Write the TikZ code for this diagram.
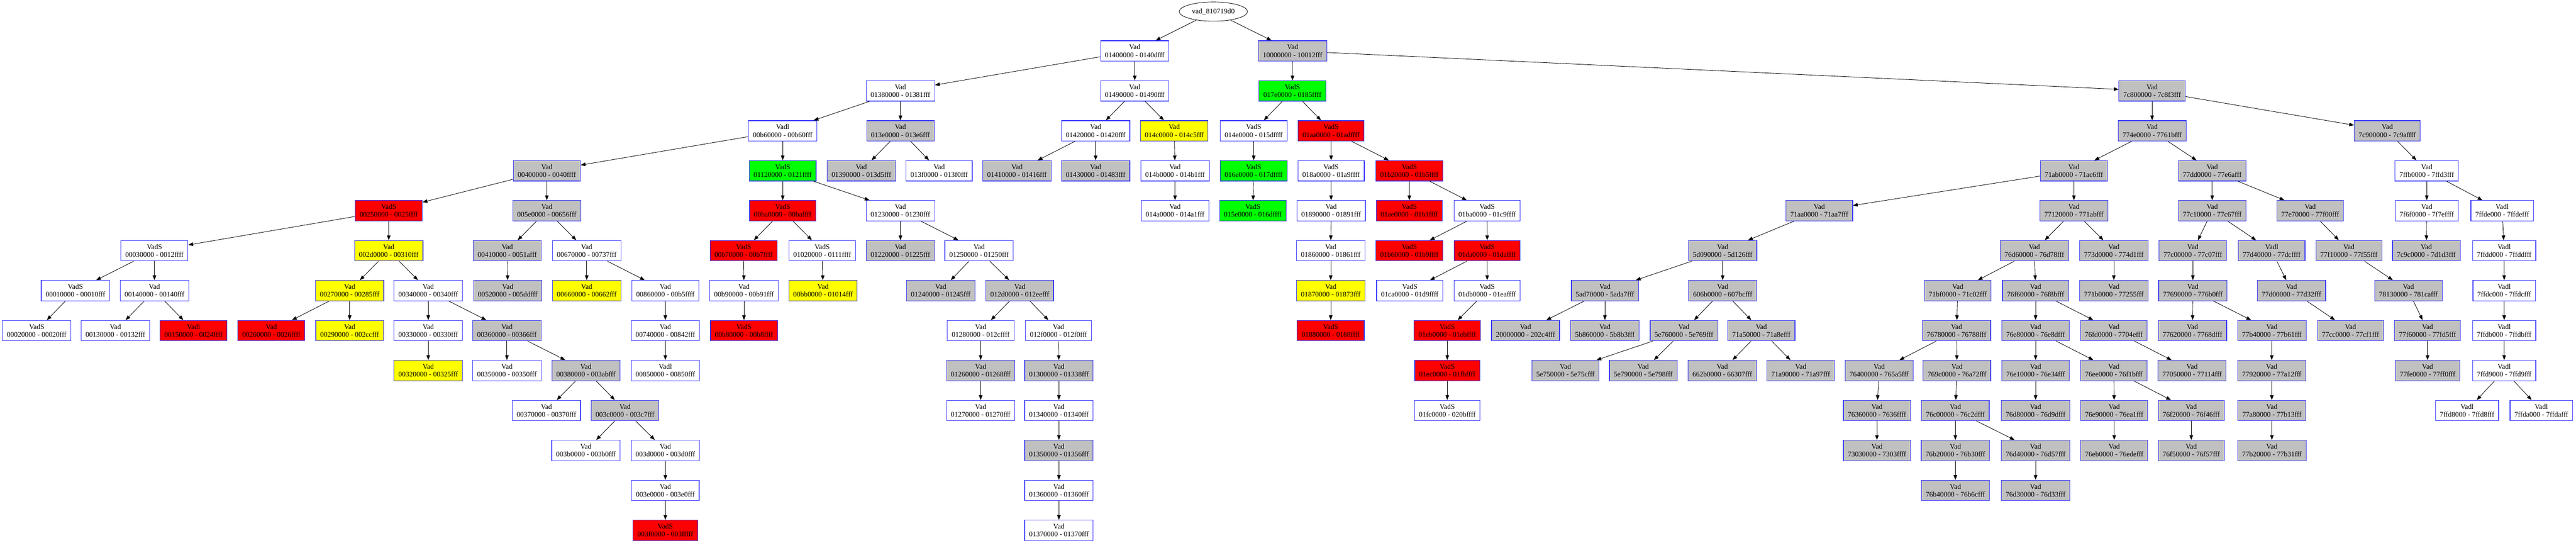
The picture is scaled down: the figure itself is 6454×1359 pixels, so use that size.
\documentclass[tikz,border=0pt]{standalone}
\usepackage{fontspec}
\setmainfont{Liberation Serif}
\usetikzlibrary{arrows.meta,shapes.geometric}
\definecolor{vgrey}{HTML}{C0C0C0}
\definecolor{vblue}{HTML}{3838FF}
\definecolor{vred}{HTML}{FF0000}
\definecolor{vyel}{HTML}{FFFF00}
\definecolor{vgrn}{HTML}{00FF00}
\newcommand\vn[6]{\node[#1] (#2) at (#3,{27.5+100*#4}) {#5\\#6};}
\begin{document}
\begin{tikzpicture}[x=1pt,y=-1pt,
  vbox/.style={draw=vblue,line width=1.5pt,minimum height=51pt,inner xsep=11pt,inner ysep=2pt,align=center,font=\fontsize{18}{19.5}\selectfont},
  wn/.style={vbox,fill=white},
  gy/.style={vbox,fill=vgrey},
  rd/.style={vbox,fill=vred},
  yw/.style={vbox,fill=vyel},
  gr/.style={vbox,fill=vgrn},
  edge/.style={line width=1.1pt,-{Triangle[length=12pt,width=9pt]}}]
\useasboundingbox (0,0) rectangle (6454,1359);
\fill[white] (0,0) rectangle (6454,1359);
\node[draw,ellipse,line width=1.1pt,minimum width=171pt,minimum height=48pt,inner sep=0pt,font=\fontsize{18}{19.5}\selectfont] (root) at (3040,29) {vad\_810719d0};
% row 1
\vn{wn}{v01400000}{2843}{1}{Vad}{01400000 - 0140dfff}
\vn{gy}{v10000000}{3238.5}{1}{Vad}{10000000 - 10012fff}
% row 2
\vn{wn}{v01380000}{2256}{2}{Vad}{01380000 - 01381fff}
\vn{wn}{v01490000}{2843}{2}{Vad}{01490000 - 01490fff}
\vn{gr}{v017e0000}{3238}{2}{VadS}{017e0000 - 0185ffff}
\vn{gy}{v7c800000}{5392}{2}{Vad}{7c800000 - 7c8f3fff}
% row 3
\vn{wn}{v00b60000}{1961}{3}{Vadl}{00b60000 - 00b60fff}
\vn{gy}{v013e0000}{2256}{3}{Vad}{013e0000 - 013e6fff}
\vn{wn}{v01420000}{2745}{3}{Vad}{01420000 - 01420fff}
\vn{yw}{v014c0000}{2942}{3}{Vad}{014c0000 - 014c5fff}
\vn{wn}{v014e0000}{3141}{3}{VadS}{014e0000 - 015dffff}
\vn{rd}{v01aa0000}{3335}{3}{VadS}{01aa0000 - 01adffff}
\vn{gy}{v774e0000}{5392}{3}{Vad}{774e0000 - 7761bfff}
\vn{gy}{v7c900000}{5981}{3}{Vad}{7c900000 - 7c9affff}
% row 4
\vn{gy}{v00400000}{1370}{4}{Vad}{00400000 - 0040ffff}
\vn{gr}{v01120000}{1961}{4}{VadS}{01120000 - 0121ffff}
\vn{gy}{v01390000}{2158}{4}{Vad}{01390000 - 013d5fff}
\vn{wn}{v013f0000}{2353}{4}{Vad}{013f0000 - 013f0fff}
\vn{gy}{v01410000}{2548}{4}{Vad}{01410000 - 01416fff}
\vn{gy}{v01430000}{2745}{4}{Vad}{01430000 - 01483fff}
\vn{wn}{v014b0000}{2944}{4}{Vad}{014b0000 - 014b1fff}
\vn{gr}{v016e0000}{3141}{4}{VadS}{016e0000 - 017dffff}
\vn{wn}{v018a0000}{3335}{4}{VadS}{018a0000 - 01a9ffff}
\vn{rd}{v01b20000}{3531}{4}{VadS}{01b20000 - 01b5ffff}
\vn{gy}{v71ab0000}{5196}{4}{Vad}{71ab0000 - 71ac6fff}
\vn{gy}{v77dd0000}{5542.5}{4}{Vad}{77dd0000 - 77e6afff}
\vn{wn}{v7ffb0000}{6080}{4}{Vad}{7ffb0000 - 7ffd3fff}
% row 5
\vn{rd}{v00250000}{974}{5}{VadS}{00250000 - 0025ffff}
\vn{gy}{v005e0000}{1370}{5}{Vad}{005e0000 - 00656fff}
\vn{rd}{v00ba0000}{1961}{5}{VadS}{00ba0000 - 00baffff}
\vn{wn}{v01230000}{2256}{5}{Vad}{01230000 - 01230fff}
\vn{wn}{v014a0000}{2944}{5}{Vad}{014a0000 - 014a1fff}
\vn{gr}{v015e0000}{3139}{5}{VadS}{015e0000 - 016dffff}
\vn{wn}{v01890000}{3335}{5}{Vad}{01890000 - 01891fff}
\vn{rd}{v01ae0000}{3531}{5}{VadS}{01ae0000 - 01b1ffff}
\vn{wn}{v01ba0000}{3726}{5}{VadS}{01ba0000 - 01c9ffff}
\vn{gy}{v71aa0000}{4558}{5}{Vad}{71aa0000 - 71aa7fff}
\vn{gy}{v77120000}{5196}{5}{Vad}{77120000 - 771abfff}
\vn{gy}{v77c10000}{5542.5}{5}{Vad}{77c10000 - 77c67fff}
\vn{gy}{v77e70000}{5788}{5}{Vad}{77e70000 - 77f00fff}
\vn{wn}{v7f6f0000}{6080}{5}{Vad}{7f6f0000 - 7f7effff}
\vn{wn}{v7ffde000}{6269}{5}{Vadl}{7ffde000 - 7ffdefff}
% row 6
\vn{wn}{v00030000}{387}{6}{VadS}{00030000 - 0012ffff}
\vn{yw}{v002d0000}{974}{6}{Vad}{002d0000 - 00310fff}
\vn{gy}{v00410000}{1271}{6}{Vad}{00410000 - 0051afff}
\vn{wn}{v00670000}{1470}{6}{Vad}{00670000 - 00737fff}
\vn{rd}{v00b70000}{1863}{6}{VadS}{00b70000 - 00b7ffff}
\vn{wn}{v01020000}{2060}{6}{VadS}{01020000 - 0111ffff}
\vn{gy}{v01220000}{2256}{6}{Vad}{01220000 - 01225fff}
\vn{wn}{v01250000}{2453}{6}{Vad}{01250000 - 01250fff}
\vn{wn}{v01860000}{3334}{6}{Vad}{01860000 - 01861fff}
\vn{rd}{v01b60000}{3531}{6}{VadS}{01b60000 - 01b9ffff}
\vn{rd}{v01da0000}{3726}{6}{VadS}{01da0000 - 01daffff}
\vn{gy}{v5d090000}{4316}{6}{Vad}{5d090000 - 5d126fff}
\vn{gy}{v76d60000}{5097}{6}{Vad}{76d60000 - 76d78fff}
\vn{gy}{v773d0000}{5296}{6}{Vad}{773d0000 - 774d1fff}
\vn{gy}{v77c00000}{5494}{6}{Vad}{77c00000 - 77c07fff}
\vn{gy}{v77d40000}{5691.5}{6}{Vadl}{77d40000 - 77dcffff}
\vn{gy}{v77f10000}{5885}{6}{Vad}{77f10000 - 77f55fff}
\vn{gy}{v7c9c0000}{6079}{6}{Vad}{7c9c0000 - 7d1d3fff}
\vn{wn}{v7ffdd000}{6274}{6}{Vadl}{7ffdd000 - 7ffddfff}
% row 7
\vn{wn}{v00010000}{189}{7}{VadS}{00010000 - 00010fff}
\vn{wn}{v00140000}{387}{7}{Vad}{00140000 - 00140fff}
\vn{yw}{v00270000}{876}{7}{Vad}{00270000 - 00285fff}
\vn{wn}{v00340000}{1073}{7}{Vad}{00340000 - 00340fff}
\vn{gy}{v00520000}{1272}{7}{Vad}{00520000 - 005ddfff}
\vn{yw}{v00660000}{1470}{7}{Vad}{00660000 - 00662fff}
\vn{wn}{v00860000}{1667}{7}{Vad}{00860000 - 00b5ffff}
\vn{wn}{v00b90000}{1864}{7}{Vad}{00b90000 - 00b91fff}
\vn{yw}{v00bb0000}{2062}{7}{Vad}{00bb0000 - 01014fff}
\vn{gy}{v01240000}{2357}{7}{Vad}{01240000 - 01245fff}
\vn{gy}{v012d0000}{2555}{7}{Vad}{012d0000 - 012eefff}
\vn{yw}{v01870000}{3334}{7}{Vad}{01870000 - 01873fff}
\vn{wn}{v01ca0000}{3532}{7}{VadS}{01ca0000 - 01d9ffff}
\vn{wn}{v01db0000}{3726}{7}{VadS}{01db0000 - 01eaffff}
\vn{gy}{v5ad70000}{4021}{7}{Vad}{5ad70000 - 5ada7fff}
\vn{gy}{v606b0000}{4316}{7}{Vad}{606b0000 - 607bcfff}
\vn{gy}{v71bf0000}{4905}{7}{Vad}{71bf0000 - 71c02fff}
\vn{gy}{v76f60000}{5100}{7}{Vad}{76f60000 - 76f8bfff}
\vn{gy}{v771b0000}{5296}{7}{Vad}{771b0000 - 77255fff}
\vn{gy}{v77690000}{5494}{7}{Vad}{77690000 - 776b0fff}
\vn{gy}{v77d00000}{5741}{7}{Vad}{77d00000 - 77d32fff}
\vn{gy}{v78130000}{6034}{7}{Vad}{78130000 - 781cafff}
\vn{wn}{v7ffdc000}{6274}{7}{Vadl}{7ffdc000 - 7ffdcfff}
% row 8
\vn{wn}{v00020000}{92}{8}{VadS}{00020000 - 00020fff}
\vn{wn}{v00130000}{289}{8}{Vad}{00130000 - 00132fff}
\vn{rd}{v00150000}{485}{8}{Vadl}{00150000 - 0024ffff}
\vn{rd}{v00260000}{680}{8}{Vad}{00260000 - 0026ffff}
\vn{yw}{v00290000}{876}{8}{Vad}{00290000 - 002ccfff}
\vn{wn}{v00330000}{1073}{8}{Vad}{00330000 - 00330fff}
\vn{gy}{v00360000}{1270}{8}{Vad}{00360000 - 00366fff}
\vn{wn}{v00740000}{1667}{8}{Vad}{00740000 - 00842fff}
\vn{rd}{v00b80000}{1864}{8}{VadS}{00b80000 - 00b8ffff}
\vn{wn}{v01280000}{2457}{8}{Vad}{01280000 - 012cffff}
\vn{wn}{v012f0000}{2652}{8}{Vad}{012f0000 - 012f0fff}
\vn{rd}{v01880000}{3334}{8}{VadS}{01880000 - 0188ffff}
\vn{rd}{v01eb0000}{3626}{8}{VadS}{01eb0000 - 01ebffff}
\vn{gy}{v20000000}{3822}{8}{Vad}{20000000 - 202c4fff}
\vn{gy}{v5b860000}{4021}{8}{Vad}{5b860000 - 5b8b3fff}
\vn{gy}{v5e760000}{4219}{8}{Vad}{5e760000 - 5e769fff}
\vn{gy}{v71a50000}{4413}{8}{Vad}{71a50000 - 71a8efff}
\vn{gy}{v76780000}{4902}{8}{Vad}{76780000 - 76788fff}
\vn{gy}{v76e80000}{5100}{8}{Vad}{76e80000 - 76e8dfff}
\vn{gy}{v76fd0000}{5296}{8}{Vad}{76fd0000 - 7704efff}
\vn{gy}{v77620000}{5493}{8}{Vad}{77620000 - 7768dfff}
\vn{gy}{v77b40000}{5692}{8}{Vad}{77b40000 - 77b61fff}
\vn{gy}{v77cc0000}{5889}{8}{Vad}{77cc0000 - 77cf1fff}
\vn{gy}{v77f60000}{6082}{8}{Vad}{77f60000 - 77fd5fff}
\vn{wn}{v7ffdb000}{6274}{8}{Vadl}{7ffdb000 - 7ffdbfff}
% row 9
\vn{yw}{v00320000}{1073}{9}{Vad}{00320000 - 00325fff}
\vn{wn}{v00350000}{1270}{9}{Vad}{00350000 - 00350fff}
\vn{gy}{v00380000}{1468}{9}{Vad}{00380000 - 003abfff}
\vn{wn}{v00850000}{1667}{9}{Vadl}{00850000 - 00850fff}
\vn{gy}{v01260000}{2457}{9}{Vad}{01260000 - 01268fff}
\vn{gy}{v01300000}{2653}{9}{Vad}{01300000 - 01338fff}
\vn{rd}{v01ec0000}{3626}{9}{VadS}{01ec0000 - 01fbffff}
\vn{gy}{v5e750000}{3922}{9}{Vad}{5e750000 - 5e75cfff}
\vn{gy}{v5e790000}{4117}{9}{Vad}{5e790000 - 5e798fff}
\vn{gy}{v662b0000}{4315}{9}{Vad}{662b0000 - 66307fff}
\vn{gy}{v71a90000}{4511.5}{9}{Vad}{71a90000 - 71a97fff}
\vn{gy}{v76400000}{4708}{9}{Vad}{76400000 - 765a5fff}
\vn{gy}{v769c0000}{4903}{9}{Vad}{769c0000 - 76a72fff}
\vn{gy}{v76e10000}{5100}{9}{Vad}{76e10000 - 76e34fff}
\vn{gy}{v76ee0000}{5296}{9}{Vad}{76ee0000 - 76f1bfff}
\vn{gy}{v77050000}{5492}{9}{Vad}{77050000 - 77114fff}
\vn{gy}{v77920000}{5691.5}{9}{Vad}{77920000 - 77a12fff}
\vn{gy}{v77fe0000}{6082}{9}{Vad}{77fe0000 - 77ff0fff}
\vn{wn}{v7ffd9000}{6274}{9}{Vadl}{7ffd9000 - 7ffd9fff}
% row 10
\vn{wn}{v00370000}{1369}{10}{Vad}{00370000 - 00370fff}
\vn{gy}{v003c0000}{1566}{10}{Vad}{003c0000 - 003c7fff}
\vn{wn}{v01270000}{2457}{10}{Vad}{01270000 - 01270fff}
\vn{wn}{v01340000}{2653}{10}{Vad}{01340000 - 01340fff}
\vn{wn}{v01fc0000}{3626}{10}{VadS}{01fc0000 - 020bffff}
\vn{gy}{v76360000}{4702.5}{10}{Vad}{76360000 - 7636ffff}
\vn{gy}{v76c00000}{4899}{10}{Vad}{76c00000 - 76c2dfff}
\vn{gy}{v76d80000}{5100}{10}{Vad}{76d80000 - 76d9dfff}
\vn{gy}{v76e90000}{5297}{10}{Vad}{76e90000 - 76ea1fff}
\vn{gy}{v76f20000}{5490}{10}{Vad}{76f20000 - 76f46fff}
\vn{gy}{v77a80000}{5692}{10}{Vad}{77a80000 - 77b13fff}
\vn{wn}{v7ffd8000}{6181}{10}{Vadl}{7ffd8000 - 7ffd8fff}
\vn{wn}{v7ffda000}{6367}{10}{Vadl}{7ffda000 - 7ffdafff}
% row 11
\vn{wn}{v003b0000}{1468}{11}{Vad}{003b0000 - 003b0fff}
\vn{wn}{v003d0000}{1667}{11}{Vad}{003d0000 - 003d0fff}
\vn{gy}{v01350000}{2653}{11}{Vad}{01350000 - 01356fff}
\vn{gy}{v73030000}{4702.5}{11}{Vad}{73030000 - 7303ffff}
\vn{gy}{v76b20000}{4899}{11}{Vad}{76b20000 - 76b30fff}
\vn{gy}{v76d40000}{5100}{11}{Vad}{76d40000 - 76d57fff}
\vn{gy}{v76eb0000}{5297}{11}{Vad}{76eb0000 - 76edefff}
\vn{gy}{v76f50000}{5490}{11}{Vad}{76f50000 - 76f57fff}
\vn{gy}{v77b20000}{5692}{11}{Vad}{77b20000 - 77b31fff}
% row 12
\vn{wn}{v003e0000}{1667}{12}{Vad}{003e0000 - 003e0fff}
\vn{wn}{v01360000}{2653}{12}{Vad}{01360000 - 01360fff}
\vn{gy}{v76b40000}{4899}{12}{Vad}{76b40000 - 76b6cfff}
\vn{gy}{v76d30000}{5100}{12}{Vad}{76d30000 - 76d33fff}
% row 13
\vn{rd}{v003f0000}{1667}{13}{VadS}{003f0000 - 003fffff}
\vn{wn}{v01370000}{2653}{13}{Vad}{01370000 - 01370fff}
% edges
\foreach \a/\b in {root/v01400000, root/v10000000,
 v01400000/v01380000, v01400000/v01490000,
 v10000000/v017e0000, v10000000/v7c800000,
 v01380000/v00b60000, v01380000/v013e0000,
 v01490000/v01420000, v01490000/v014c0000,
 v017e0000/v014e0000, v017e0000/v01aa0000,
 v7c800000/v774e0000, v7c800000/v7c900000,
 v00b60000/v00400000, v00b60000/v01120000,
 v013e0000/v01390000, v013e0000/v013f0000,
 v01420000/v01410000, v01420000/v01430000,
 v014c0000/v014b0000, v014e0000/v016e0000,
 v01aa0000/v018a0000, v01aa0000/v01b20000,
 v774e0000/v71ab0000, v774e0000/v77dd0000,
 v7c900000/v7ffb0000,
 v00400000/v00250000, v00400000/v005e0000,
 v01120000/v00ba0000, v01120000/v01230000,
 v014b0000/v014a0000, v016e0000/v015e0000,
 v018a0000/v01890000,
 v01b20000/v01ae0000, v01b20000/v01ba0000,
 v71ab0000/v71aa0000, v71ab0000/v77120000,
 v77dd0000/v77c10000, v77dd0000/v77e70000,
 v7ffb0000/v7f6f0000, v7ffb0000/v7ffde000,
 v00250000/v00030000, v00250000/v002d0000,
 v005e0000/v00410000, v005e0000/v00670000,
 v00ba0000/v00b70000, v00ba0000/v01020000,
 v01230000/v01220000, v01230000/v01250000,
 v01890000/v01860000,
 v01ba0000/v01b60000, v01ba0000/v01da0000,
 v71aa0000/v5d090000,
 v77120000/v76d60000, v77120000/v773d0000,
 v77c10000/v77c00000, v77c10000/v77d40000,
 v77e70000/v77f10000, v7f6f0000/v7c9c0000, v7ffde000/v7ffdd000,
 v00030000/v00010000, v00030000/v00140000,
 v002d0000/v00270000, v002d0000/v00340000,
 v00410000/v00520000,
 v00670000/v00660000, v00670000/v00860000,
 v00b70000/v00b90000, v01020000/v00bb0000,
 v01250000/v01240000, v01250000/v012d0000,
 v01860000/v01870000,
 v01da0000/v01ca0000, v01da0000/v01db0000,
 v5d090000/v5ad70000, v5d090000/v606b0000,
 v76d60000/v71bf0000, v76d60000/v76f60000,
 v773d0000/v771b0000, v77c00000/v77690000, v77d40000/v77d00000,
 v77f10000/v78130000, v7ffdd000/v7ffdc000,
 v00010000/v00020000,
 v00140000/v00130000, v00140000/v00150000,
 v00270000/v00260000, v00270000/v00290000,
 v00340000/v00330000, v00340000/v00360000,
 v00860000/v00740000, v00b90000/v00b80000,
 v012d0000/v01280000, v012d0000/v012f0000,
 v01870000/v01880000, v01db0000/v01eb0000,
 v5ad70000/v20000000, v5ad70000/v5b860000,
 v606b0000/v5e760000, v606b0000/v71a50000,
 v71bf0000/v76780000,
 v76f60000/v76e80000, v76f60000/v76fd0000,
 v77690000/v77620000, v77690000/v77b40000,
 v77d00000/v77cc0000, v78130000/v77f60000, v7ffdc000/v7ffdb000,
 v00330000/v00320000,
 v00360000/v00350000, v00360000/v00380000,
 v00740000/v00850000, v01280000/v01260000, v012f0000/v01300000,
 v01eb0000/v01ec0000,
 v5e760000/v5e750000, v5e760000/v5e790000,
 v71a50000/v662b0000, v71a50000/v71a90000,
 v76780000/v76400000, v76780000/v769c0000,
 v76e80000/v76e10000, v76e80000/v76ee0000,
 v76fd0000/v77050000, v77b40000/v77920000, v77f60000/v77fe0000,
 v7ffdb000/v7ffd9000,
 v00380000/v00370000, v00380000/v003c0000,
 v01260000/v01270000, v01300000/v01340000, v01ec0000/v01fc0000,
 v76400000/v76360000, v769c0000/v76c00000, v76e10000/v76d80000,
 v76ee0000/v76e90000, v76ee0000/v76f20000,
 v77920000/v77a80000,
 v7ffd9000/v7ffd8000, v7ffd9000/v7ffda000,
 v003c0000/v003b0000, v003c0000/v003d0000,
 v01340000/v01350000, v76360000/v73030000,
 v76c00000/v76b20000, v76c00000/v76d40000,
 v76e90000/v76eb0000, v76f20000/v76f50000, v77a80000/v77b20000,
 v003d0000/v003e0000, v01350000/v01360000,
 v76b20000/v76b40000, v76d40000/v76d30000,
 v003e0000/v003f0000, v01360000/v01370000}
 \draw[edge] (\a) -- (\b);
\end{tikzpicture}
\end{document}
